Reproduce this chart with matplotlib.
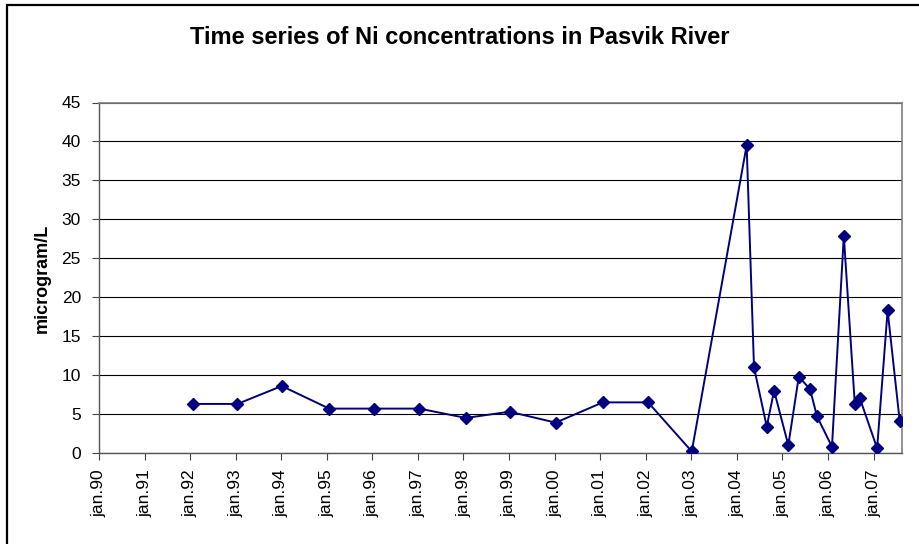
import pandas as pd
import matplotlib.pyplot as plt
from matplotlib.patches import Rectangle

plt.rcParams['font.family'] = ['Liberation Sans', 'DejaVu Sans']

# Ni sampling dates and concentrations (microgram/L)
sample_dates = ['1992-01-25', '1993-01-15', '1994-01-05', '1995-01-20',
                '1996-01-12', '1997-01-12', '1998-01-20', '1999-01-05',
                '2000-01-10', '2001-01-22', '2002-01-20', '2003-01-05',
                '2004-03-20', '2004-05-18', '2004-08-28', '2004-10-26',
                '2005-02-17', '2005-05-12', '2005-08-10', '2005-10-05',
                '2006-02-02', '2006-05-08', '2006-08-04', '2006-09-12',
                '2007-01-30', '2007-04-24', '2007-07-30']
ni_conc = [6.3, 6.3, 8.6, 5.7, 5.7, 5.7, 4.5, 5.3, 3.9, 6.5, 6.5, 0.2,
           39.5, 11.0, 3.4, 8.0, 1.0, 9.8, 8.2, 4.7, 0.8, 27.9, 6.3, 7.1,
           0.6, 18.3, 4.1]

tick_years = list(range(1990, 2008))
tick_labels = ['jan.%02d' % (y % 100) for y in tick_years]
y_ticks = [0, 5, 10, 15, 20, 25, 30, 35, 40, 45]

dates = pd.to_datetime(sample_dates)
tick_dates = pd.to_datetime(['%d-01-01' % y for y in tick_years])

fig = plt.figure(figsize=(9.2, 5.44), dpi=100)
ax = fig.add_axes([99 / 920, 1 - 453 / 544, 802.7 / 920, 350.5 / 544])

# outer chart frame
fig.patches.append(Rectangle((7 / 920, -0.1), 1.2, 1 - 5 / 544 + 0.1,
                             transform=fig.transFigure, fill=False,
                             edgecolor='black', lw=1.6))

ax.plot(dates, ni_conc, color='#000080', lw=1.4, marker='D', ms=6.5,
        markerfacecolor='#000080', markeredgecolor='#000080', zorder=3)

ax.set_xlim(pd.Timestamp('1990-01-01'), pd.Timestamp('2007-08-15'))
ax.set_ylim(0, 45)
ax.set_yticks(y_ticks)
ax.set_xticks(tick_dates)
ax.set_xticklabels(tick_labels, rotation=90, fontsize=12.5)
ax.tick_params(axis='y', labelsize=12.5, length=5, width=0.8, color='#444444', pad=8)
ax.tick_params(axis='x', length=5, width=0.8, color='#444444', pad=7)
ax.yaxis.grid(True, color='black', lw=0.8)
ax.set_axisbelow(True)

for side in ['top', 'right']:
    ax.spines[side].set_color('#808080')
    ax.spines[side].set_linewidth(1.2)
for side in ['left', 'bottom']:
    ax.spines[side].set_color('#555555')
    ax.spines[side].set_linewidth(1.0)

fig.text(42 / 920, 1 - 278 / 544, 'microgram/L', rotation=90,
         ha='center', va='center', fontsize=13, fontweight='bold')
fig.text(460 / 920, 1 - 37 / 544, 'Time series of Ni concentrations in Pasvik River',
         ha='center', va='center', fontsize=17, fontweight='bold')

fig.savefig('out.png', dpi=100)
